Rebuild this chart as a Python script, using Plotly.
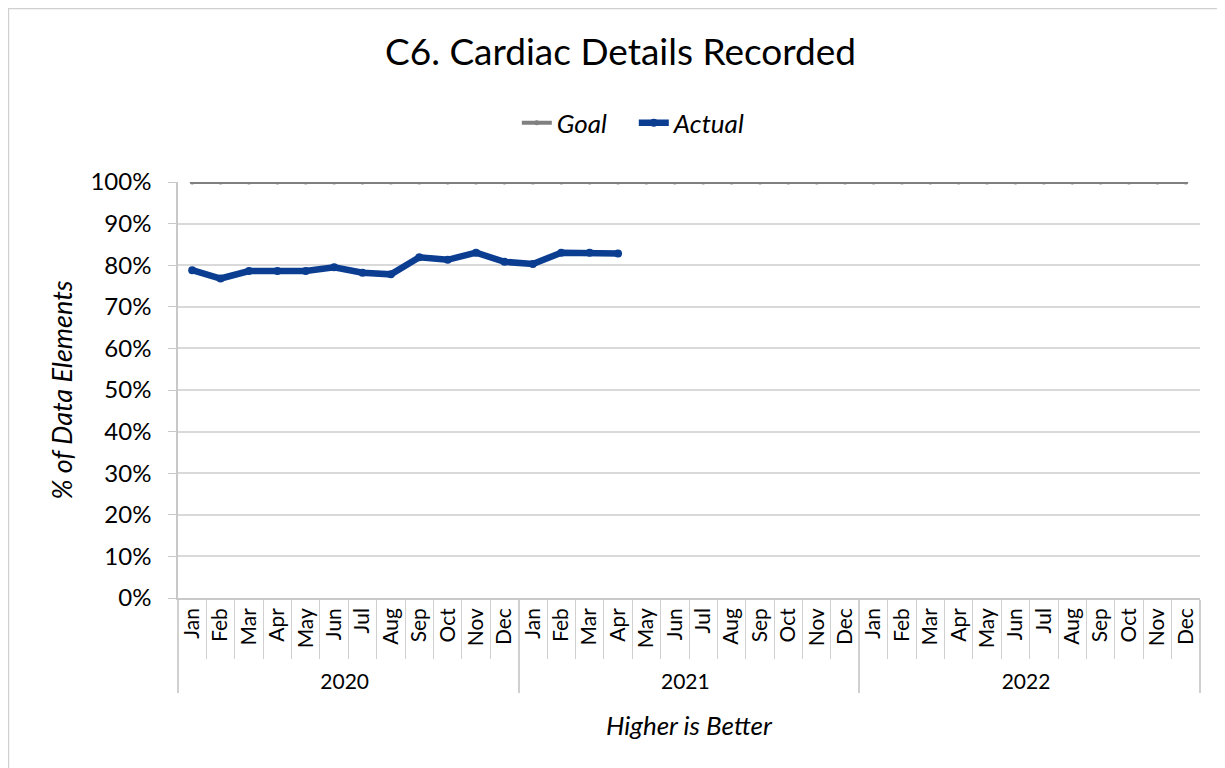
import plotly.graph_objects as go

# months and years for the two-level x axis
months = ['Jan', 'Feb', 'Mar', 'Apr', 'May', 'Jun',
          'Jul', 'Aug', 'Sep', 'Oct', 'Nov', 'Dec']
years = ['2020', '2021', '2022']

x_years = [y for y in years for m in months]
x_months = [m for y in years for m in months]

goal = [1.0] * 36
actual = [0.788, 0.768, 0.786, 0.786, 0.786, 0.795, 0.782, 0.778,
          0.819, 0.813, 0.830, 0.808, 0.803, 0.830, 0.830, 0.828]

font = 'Lato'

fig = go.Figure()

fig.add_trace(go.Scatter(
    x=[x_years, x_months],
    y=goal,
    name='Goal',
    mode='lines+markers',
    line=dict(color='#808080', width=4),
    marker=dict(size=5, color='#808080'),
))

fig.add_trace(go.Scatter(
    x=[x_years[:len(actual)], x_months[:len(actual)]],
    y=actual,
    name='Actual',
    mode='lines+markers',
    line=dict(color='#0B3D91', width=6.5),
    marker=dict(size=8, color='#0B3D91'),
))

# outer border of the chart (only top and left edges fall inside the page)
fig.add_shape(type='rect', xref='paper', yref='paper',
              x0=-0.1659, x1=1.04, y0=-0.5, y1=1.417,
              line=dict(color='#d0d0d0', width=1.5), layer='below')

fig.update_layout(
    width=1225, height=768,
    margin=dict(l=170, r=33, t=174, b=178, autoexpand=False),
    plot_bgcolor='white',
    paper_bgcolor='white',
    font=dict(family=font, color='black'),
    title=dict(text='C6. Cardiac Details Recorded', x=0.5, xanchor='center',
               y=0.943, yanchor='middle', font=dict(size=37, family=font)),
    showlegend=True,
    legend=dict(orientation='h', x=0.446, xanchor='center', y=1.142, yanchor='middle',
                font=dict(size=26, family=font, style='italic'),
                entrywidth=72, entrywidthmode='pixels',
                traceorder='normal'),
    xaxis=dict(
        type='multicategory',
        automargin=False,
        range=[-0.5, 35.5],
        showgrid=False,
        showline=True, linecolor='#c8c8c8', linewidth=1.5,
        ticks='outside', tickson='boundaries', ticklen=59,
        tickcolor='#d0d0d0', tickwidth=1,
        tickangle=-90,
        tickfont=dict(size=21, family=font),
        showdividers=True, dividercolor='#d0d0d0', dividerwidth=1.5,
        title=dict(text='Higher is Better', font=dict(size=26, family=font, style='italic'),
                   standoff=25),
    ),
    yaxis=dict(
        automargin=False,
        range=[0, 1.0],
        dtick=0.1,
        tickformat='.0%',
        showgrid=True, gridcolor='#d9d9d9', gridwidth=1.5,
        showline=True, linecolor='#c8c8c8', linewidth=1.5,
        ticks='outside', ticklen=8, tickcolor='#c8c8c8',
        ticklabelstandoff=12,
        tickfont=dict(size=24, family=font),
        zeroline=False,
        title=dict(text='% of Data Elements', font=dict(size=27, family=font, style='italic'),
                   standoff=10),
    ),
)

fig.write_html('out.html')
